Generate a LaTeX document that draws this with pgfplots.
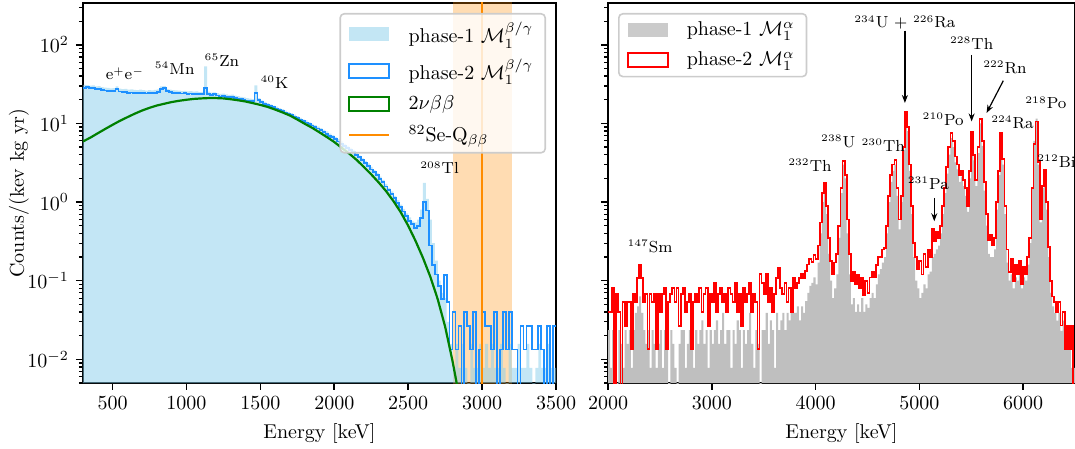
\documentclass[border=0pt]{standalone}
\usepackage{pgfplots}
\pgfplotsset{compat=1.18}
\usepackage{pgfplotstable}
\usetikzlibrary{arrows.meta}

\definecolor{skyblue}{RGB}{135,206,235}
\definecolor{dodgerblue}{RGB}{30,144,255}
\definecolor{mplgreen}{RGB}{0,128,0}
\definecolor{darkorange}{RGB}{255,140,0}
\definecolor{alphagray}{RGB}{191,191,191}

% isotope label: small mass number, footnotesize symbol
\newcommand{\iso}[2]{$^{\scriptscriptstyle #1}$#2}

% beta/gamma spectra, 20 keV bins (left edges), last row closes the last bin
\pgfplotstableread{
E P1 P2
300 31.0 28.5
320 30.6 28.8
340 30.2 28.2
360 30.4 28.0
380 29.6 27.5
400 29.8 27.2
420 29.0 26.8
440 28.6 26.2
460 28.4 26.0
480 28.0 25.6
500 28.2 25.8
520 29.5 27.2
540 27.8 25.4
560 27.4 25.2
580 27.6 25.0
600 27.0 24.6
620 27.2 24.8
640 26.8 24.4
660 26.6 24.5
680 26.9 24.2
700 26.5 24.3
720 26.2 24.0
740 26.6 24.4
760 26.3 24.1
780 26.8 24.6
800 27.2 25.0
820 29.5 27.6
840 29.8 28.0
860 27.6 25.8
880 27.0 25.0
900 26.6 24.6
920 26.4 24.2
940 26.2 24.4
960 25.8 24.0
980 26.0 24.3
1000 25.6 23.8
1020 25.8 24.0
1040 25.4 23.6
1060 25.6 23.8
1080 25.0 23.5
1100 25.2 23.4
1120 53.0 28.5
1140 25.4 23.6
1160 24.6 22.8
1180 24.8 23.4
1200 24.2 22.6
1220 23.8 22.0
1240 23.9 22.4
1260 23.4 21.8
1280 23.0 21.6
1300 23.2 21.9
1320 22.6 21.2
1340 22.2 20.8
1360 21.8 20.4
1380 21.4 20.0
1400 20.9 19.6
1420 20.6 19.3
1440 20.4 19.2
1460 30.5 24.5
1480 21.0 19.8
1500 19.6 18.6
1520 18.8 17.8
1540 18.1 17.2
1560 17.5 16.6
1580 16.9 16.0
1600 16.3 15.5
1620 15.7 14.9
1640 15.2 14.4
1660 14.6 13.8
1680 14.0 13.2
1700 13.5 12.8
1720 12.9 12.2
1740 12.4 11.7
1760 11.8 11.2
1780 11.3 10.7
1800 10.9 10.3
1820 10.4 9.8
1840 9.9 9.4
1860 9.5 9.0
1880 9.1 8.6
1900 8.7 8.2
1920 8.3 7.8
1940 7.9 7.4
1960 7.4 7.0
1980 7.1 6.7
2000 6.7 6.3
2020 6.3 5.9
2040 5.9 5.5
2060 5.5 5.2
2080 5.2 4.9
2100 4.9 4.6
2120 4.6 4.3
2140 4.3 4.0
2160 3.9 3.7
2180 3.6 3.4
2200 3.35 3.15
2220 3.1 2.9
2240 2.8 2.6
2260 2.55 2.4
2280 2.35 2.2
2300 2.1 1.95
2320 1.92 1.8
2340 1.7 1.58
2360 1.52 1.42
2380 1.37 1.28
2400 1.2 1.12
2420 1.06 0.98
2440 0.93 0.86
2460 0.82 0.76
2480 0.72 0.66
2500 0.64 0.58
2520 0.57 0.52
2540 0.55 0.47
2560 0.6 0.5
2580 0.8 0.62
2600 1.75 1.0
2620 1.1 0.78
2640 0.6 0.28
2660 0.3 0.16
2680 0.18 0.12
2700 0.1 0.085
2720 0.07 0.058
2740 0.06 0.118
2760 0.03 0.053
2780 0.0157 0.0133
2800 0.0078 0.040
2820 0.0157 0.0133
2840 0.0078 0.0266
2860 0.0157 0.0001
2880 0.0078 0.040
2900 0.0001 0.0266
2920 0.0157 0.0133
2940 0.0078 0.040
2960 0.0078 0.0001
2980 0.0157 0.0133
3000 0.0078 0.040
3020 0.0157 0.0266
3040 0.0078 0.0266
3060 0.0157 0.0133
3080 0.0078 0.040
3100 0.0078 0.0001
3120 0.0157 0.0133
3140 0.0078 0.040
3160 0.0001 0.0133
3180 0.0157 0.040
3200 0.0078 0.0133
3220 0.0078 0.0133
3240 0.0157 0.0001
3260 0.0078 0.0266
3280 0.0078 0.0133
3300 0.0157 0.0266
3320 0.0078 0.0266
3340 0.0001 0.0133
3360 0.0078 0.0133
3380 0.0157 0.0266
3400 0.0078 0.0133
3420 0.0078 0.0001
3440 0.0157 0.0266
3460 0.0078 0.0001
3480 0.0078 0.0266
3500 0.0078 0.0266
}\betagamma

% 2nu beta beta
\pgfplotstableread{
E G
300 5.9
350 6.6
400 7.5
450 8.5
500 9.6
550 10.8
600 12.0
650 13.3
700 14.6
750 15.8
800 16.9
850 17.8
900 18.7
950 19.4
1000 20.0
1050 20.5
1100 20.8
1150 21.0
1200 21.0
1250 20.8
1300 20.3
1350 19.7
1400 19.0
1450 18.1
1500 17.2
1550 16.2
1600 15.0
1650 13.8
1700 12.6
1750 11.2
1800 9.9
1850 8.8
1900 7.7
1950 6.7
2000 5.8
2050 4.9
2100 4.15
2150 3.45
2200 2.8
2250 2.25
2300 1.78
2350 1.38
2400 1.03
2450 0.74
2500 0.5
2550 0.32
2600 0.195
2650 0.112
2700 0.058
2750 0.026
2800 0.0095
2850 0.003
2900 0.0008
}\twonu

% alpha spectra, 20 keV bins
\pgfplotstableread{
E A1 A2
2000 0.0235 0.0402
2020 0.0078 0.0402
2040 0.0235 0.0804
2060 0.0157 0.0001
2080 0.0001 0.067
2100 0.0235 0.0402
2120 0.0157 0.0001
2140 0.0078 0.0536
2160 0.0235 0.0268
2180 0.0157 0.0536
2200 0.0235 0.0536
2220 0.0078 0.0134
2240 0.0235 0.067
2260 0.039 0.0536
2280 0.047 0.107
2300 0.063 0.161
2320 0.039 0.107
2340 0.0235 0.0536
2360 0.0157 0.067
2380 0.0235 0.0134
2400 0.0078 0.067
2420 0.0235 0.0536
2440 0.0157 0.067
2460 0.0078 0.0134
2480 0.0157 0.067
2500 0.0235 0.0402
2520 0.0078 0.067
2540 0.0235 0.0804
2560 0.0157 0.0134
2580 0.0001 0.0536
2600 0.0235 0.067
2620 0.0157 0.0804
2640 0.0078 0.0536
2660 0.0001 0.0804
2680 0.0157 0.0268
2700 0.0235 0.067
2720 0.0235 0.0804
2740 0.0078 0.0402
2760 0.0157 0.0536
2780 0.0235 0.067
2800 0.0157 0.0134
2820 0.0078 0.0536
2840 0.0235 0.067
2860 0.0157 0.0536
2880 0.0235 0.0804
2900 0.0313 0.0402
2920 0.0157 0.067
2940 0.0235 0.0804
2960 0.0078 0.0268
2980 0.0235 0.067
3000 0.0157 0.0536
3020 0.0235 0.0938
3040 0.0313 0.0402
3060 0.0157 0.067
3080 0.0235 0.0804
3100 0.039 0.0536
3120 0.0157 0.067
3140 0.0235 0.0402
3160 0.0235 0.0804
3180 0.0078 0.067
3200 0.0235 0.0536
3220 0.0157 0.0938
3240 0.0313 0.0402
3260 0.0235 0.067
3280 0.0078 0.0268
3300 0.0235 0.0804
3320 0.0157 0.0536
3340 0.0235 0.067
3360 0.039 0.0938
3380 0.0157 0.0402
3400 0.0078 0.067
3420 0.0235 0.0536
3440 0.0157 0.0134
3460 0.0001 0.121
3480 0.0235 0.0938
3500 0.0235 0.067
3520 0.039 0.121
3540 0.0157 0.0536
3560 0.0313 0.0804
3580 0.0235 0.0402
3600 0.0078 0.067
3620 0.039 0.107
3640 0.0235 0.146
3660 0.0313 0.0804
3680 0.039 0.067
3700 0.0235 0.0938
3720 0.039 0.0536
3740 0.0313 0.0804
3760 0.047 0.0402
3780 0.039 0.107
3800 0.039 0.0804
3820 0.047 0.0938
3840 0.0313 0.107
3860 0.047 0.121
3880 0.039 0.107
3900 0.055 0.134
3920 0.070 0.161
3940 0.086 0.188
3960 0.094 0.174
3980 0.11 0.214
4000 0.09 0.19
4020 0.17 0.28
4040 0.4 0.55
4060 1.0 1.3
4080 1.3 1.75
4100 0.7 0.9
4120 0.22 0.35
4140 0.1 0.18
4160 0.06 0.12
4180 0.08 0.17
4200 0.12 0.22
4220 0.35 0.5
4240 1.3 1.5
4260 3.0 3.3
4280 2.0 2.2
4300 0.4 0.6
4320 0.12 0.22
4340 0.05 0.1
4360 0.06 0.13
4380 0.04 0.09
4400 0.05 0.12
4420 0.04 0.08
4440 0.06 0.11
4460 0.04 0.065
4480 0.05 0.1
4500 0.045 0.07
4520 0.06 0.11
4540 0.07 0.13
4560 0.06 0.11
4580 0.09 0.16
4600 0.12 0.2
4620 0.14 0.2
4640 0.17 0.25
4660 0.2 0.26
4680 0.4 0.5
4700 1.0 1.2
4720 1.8 2.2
4740 2.5 3.0
4760 3.0 3.4
4780 1.2 1.5
4800 0.45 0.6
4820 1.0 1.2
4840 4.5 5.0
4860 13 14.2
4880 8 9.0
4900 2.5 3.0
4920 0.7 0.9
4940 0.2 0.3
4960 0.1 0.2
4980 0.08 0.14
5000 0.06 0.18
5020 0.07 0.12
5040 0.09 0.22
5060 0.08 0.15
5080 0.12 0.25
5100 0.13 0.2
5120 0.2 0.45
5140 0.22 0.32
5160 0.25 0.42
5180 0.28 0.35
5200 0.4 0.5
5220 0.7 0.9
5240 1.3 1.5
5260 2.3 2.8
5280 4.0 5.0
5300 6.5 7.6
5320 5.0 6.0
5340 3.2 3.8
5360 2.6 3.0
5380 1.8 2.2
5400 2.1 2.5
5420 1.6 1.9
5440 1.2 1.5
5460 0.75 0.9
5480 2.0 2.5
5500 6.5 7.9
5520 3.4 4.0
5540 1.6 1.9
5560 4.2 5.0
5580 10 11.5
5600 5.2 6.0
5620 1.4 1.8
5640 0.5 0.7
5660 0.22 0.33
5680 0.2 0.38
5700 0.2 0.28
5720 0.25 0.35
5740 0.8 1.0
5760 2.2 2.5
5780 7.0 7.6
5800 3.0 3.5
5820 0.7 0.9
5840 0.17 0.25
5860 0.1 0.13
5880 0.12 0.19
5900 0.08 0.1
5920 0.11 0.16
5940 0.1 0.12
5960 0.12 0.18
5980 0.08 0.09
6000 0.11 0.15
6020 0.1 0.12
6040 0.16 0.2
6060 0.3 0.35
6080 1.5 1.5
6100 6.0 5.5
6120 11.5 10.6
6140 3.0 3.2
6160 0.55 0.6
6180 1.5 1.6
6200 2.3 2.6
6220 0.8 1.0
6240 0.2 0.27
6260 0.07 0.1
6280 0.047 0.063
6300 0.039 0.053
6320 0.031 0.04
6340 0.039 0.054
6360 0.023 0.027
6380 0.031 0.04
6400 0.0157 0.0134
6420 0.023 0.027
6440 0.0157 0.0134
6460 0.0078 0.027
6480 0.0078 0.0001
6500 0.0078 0.0001
}\alphaspec

\pgfplotsset{
  every axis/.append style={
    scale only axis,
    height=190pt,
    ymin=5e-3, ymax=340,
    tick align=outside,
    xtick pos=bottom, ytick pos=left,
    major tick length=3.5pt, minor tick length=2pt,
    tick style={black, line width=0.8pt},
    minor tick style={line width=0.6pt},
    axis line style={line width=0.8pt},
    xticklabel style={/pgf/number format/1000 sep={}},
    xlabel={Energy [keV]},
    legend cell align=left,
    legend style={draw=black!20, line width=0.8pt, fill=white,
      fill opacity=0.8, text opacity=1, draw opacity=1,
      rounded corners=2pt, inner xsep=4pt, inner ysep=2pt,
      row sep=2.5pt,
      /tikz/every odd column/.append style={column sep=7pt}},
  },
}

\begin{document}
\begin{tikzpicture}
\begin{axis}[
    ymode=log, log origin y=infty,
    at={(0pt,0pt)},
    width=236.5pt,
    xmin=300, xmax=3500,
    xtick={500,1000,...,3500},
    ylabel={Counts/(kev kg yr)},
    ylabel style={at={(axis description cs:0,0.5)}, anchor=center, yshift=32pt},
    legend style={at={(1,1)}, anchor=north east, xshift=-5pt, yshift=-5pt},
]
\addplot[draw=none, fill=darkorange, fill opacity=0.3, forget plot]
  coordinates {(2800,1e-4) (3200,1e-4) (3200,1e4) (2800,1e4)};

\addplot[const plot, draw=none, fill=skyblue, fill opacity=0.5,
  legend image code/.code={\fill[skyblue, fill opacity=0.5, sharp corners] (0pt,-3.5pt) rectangle (20pt,3.5pt);}]
  table[x=E, y=P1] {\betagamma} \closedcycle;
\addlegendentry{phase-1 $\mathcal{M}_1^{\beta/\gamma}$}

\addplot[const plot, dodgerblue, line width=0.9pt,
  legend image code/.code={\draw[dodgerblue, line width=1pt, sharp corners] (0pt,-3.5pt) rectangle (20pt,3.5pt);}]
  table[x=E, y=P2] {\betagamma};
\addlegendentry{phase-2 $\mathcal{M}_1^{\beta/\gamma}$}

\addplot[mplgreen, line width=1.1pt,
  legend image code/.code={\draw[mplgreen, line width=1pt, sharp corners] (0pt,-3.5pt) rectangle (20pt,3.5pt);}]
  table[x=E, y=G] {\twonu};
\addlegendentry{$2\nu\beta\beta$}

\addplot[darkorange, line width=1.2pt,
  legend image code/.code={\draw[darkorange, line width=1.2pt] (0pt,0pt) -- (20pt,0pt);}]
  coordinates {(3000,1e-4) (3000,1e4)};
\addlegendentry{$^{82}$Se-Q$_{\beta\beta}$}

\node[font=\footnotesize] at (axis cs:584,42.9) {e$^{\scriptscriptstyle +}$e$^{\scriptscriptstyle -}$};
\node[font=\footnotesize] at (axis cs:920,50.6) {\iso{54}{Mn}};
\node[font=\footnotesize] at (axis cs:1240,64) {\iso{65}{Zn}};
\node[font=\footnotesize] at (axis cs:1595,33.2) {\iso{40}{K}};
\node[font=\footnotesize] at (axis cs:2712,2.72) {\iso{208}{Tl}};
\end{axis}

\begin{axis}[
    ymode=log, log origin y=infty,
    at={(262.5pt,0pt)},
    width=233.5pt,
    xmin=2000, xmax=6500,
    xtick={2000,3000,...,6000},
    yticklabels={},
    legend style={at={(0,1)}, anchor=north west, xshift=5pt, yshift=-5pt},
]
\addplot[const plot, draw=none, fill=alphagray,
  legend image code/.code={\fill[alphagray, sharp corners] (0pt,-3.5pt) rectangle (20pt,3.5pt);}]
  table[x=E, y=A1] {\alphaspec} \closedcycle;
\addlegendentry{phase-1 $\mathcal{M}_1^{\alpha}$}

\addplot[const plot, red, line width=0.9pt,
  legend image code/.code={\draw[red, line width=1pt, sharp corners] (0pt,-3.5pt) rectangle (20pt,3.5pt);}]
  table[x=E, y=A2] {\alphaspec};
\addlegendentry{phase-2 $\mathcal{M}_1^{\alpha}$}

\node[font=\footnotesize] at (axis cs:2405,0.275) {\iso{147}{Sm}};
\node[font=\footnotesize] at (axis cs:3946,2.93) {\iso{232}{Th}};
\node[font=\footnotesize] at (axis cs:4219,5.9) {\iso{238}{U}};
\node[font=\footnotesize] at (axis cs:4652,5.26) {\iso{230}{Th}};
\node[font=\footnotesize] at (axis cs:4861,192) {\iso{234}{U} + \iso{226}{Ra}};
\node[font=\footnotesize] at (axis cs:5504,105) {\iso{228}{Th}};
\node[font=\footnotesize] at (axis cs:5825,51.5) {\iso{222}{Rn}};
\node[font=\footnotesize] at (axis cs:5230,11.2) {\iso{210}{Po}};
\node[font=\footnotesize] at (axis cs:5086,1.72) {\iso{231}{Pa}};
\node[font=\footnotesize] at (axis cs:5898,10.3) {\iso{224}{Ra}};
\node[font=\footnotesize] at (axis cs:6220,18.2) {\iso{218}{Po}};
\node[font=\footnotesize] at (axis cs:6322,3.3) {\iso{212}{Bi}};
\draw[-{Stealth[length=4pt,width=3pt]}, line width=0.6pt] (axis cs:4861,151) -- (axis cs:4861,18.2);
\draw[-{Stealth[length=4pt,width=3pt]}, line width=0.6pt] (axis cs:5504,74.6) -- (axis cs:5504,10.6);
\draw[-{Stealth[length=4pt,width=3pt]}, line width=0.6pt] (axis cs:5809,34.9) -- (axis cs:5648,13.6);
\draw[-{Stealth[length=4pt,width=3pt]}, line width=0.6pt] (axis cs:5144,1.13) -- (axis cs:5144,0.57);
\end{axis}

\pgfresetboundingbox
\useasboundingbox (-41.5pt,-33pt) rectangle (496pt,191.5pt);
\end{tikzpicture}
\end{document}
